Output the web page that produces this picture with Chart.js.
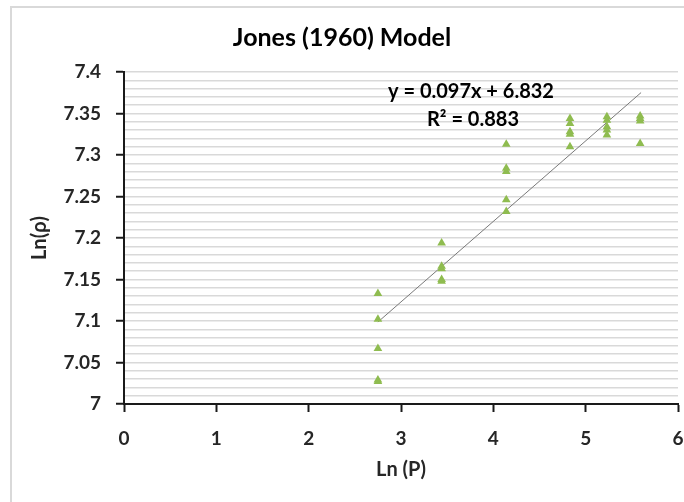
<!DOCTYPE html>
<html>
<head>
<meta charset="utf-8">
<script src="https://cdn.jsdelivr.net/npm/chart.js@4/dist/chart.umd.min.js"></script>
<style>
  html, body { margin: 0; padding: 0; background: #fff; }
  #box { width: 684px; height: 502px; }
</style>
</head>
<body>
<div id="box"><canvas id="jonesChart" width="684" height="502"></canvas></div>
<script>
// Ln(P) and Ln(rho) pairs
const lnP   = [2.75, 2.75, 2.75, 2.75, 2.75,
               3.44, 3.44, 3.44, 3.44, 3.44,
               4.14, 4.14, 4.14, 4.14, 4.14,
               4.83, 4.83, 4.83, 4.83, 4.83,
               5.23, 5.23, 5.23, 5.23, 5.23,
               5.59, 5.59, 5.59, 5.59];
const lnRho = [7.133, 7.102, 7.067, 7.029, 7.027,
               7.194, 7.166, 7.163, 7.150, 7.148,
               7.313, 7.284, 7.280, 7.246, 7.232,
               7.344, 7.338, 7.328, 7.325, 7.310,
               7.346, 7.342, 7.334, 7.330, 7.324,
               7.347, 7.344, 7.341, 7.314];

// linear trendline shown in the chart
const slope = 0.097;
const intercept = 6.832;
const rSquared = 0.883;
const trendX = [2.75, 5.6];

const chartTitle = 'Jones (1960) Model';
const xTitle = 'Ln (P)';
const yTitle = 'Ln(ρ)';

const fontFamily = "Lato, 'Open Sans', sans-serif";

const points = lnP.map((x, i) => ({ x: x, y: lnRho[i] }));
const trendPoints = trendX.map(x => ({ x: x, y: intercept + slope * x }));

function isMajor(v) {
    return Math.round(v * 100) % 5 === 0;
}

// light frame on the left and top, like the Excel chart border
const framePlugin = {
    id: 'frame',
    beforeDraw(chart) {
        const c = chart.ctx;
        c.save();
        c.fillStyle = '#fff';
        c.fillRect(0, 0, chart.width, chart.height);
        c.strokeStyle = '#d9d9d9';
        c.lineWidth = 2;
        c.beginPath();
        c.moveTo(11, chart.height);
        c.lineTo(11, 7);
        c.lineTo(chart.width, 7);
        c.stroke();
        c.restore();
    }
};

// equation + R² label of the trendline
const equationPlugin = {
    id: 'equation',
    afterDatasetsDraw(chart) {
        const c = chart.ctx;
        const a = chart.chartArea;
        c.save();
        c.fillStyle = '#000';
        c.font = 'bold 20px ' + fontFamily;
        c.textAlign = 'center';
        c.textBaseline = 'middle';
        c.fillText('y = ' + slope.toFixed(3) + 'x + ' + intercept.toFixed(3), a.left + 347, a.top + 20);
        c.fillText('R² = ' + rSquared.toFixed(3), a.left + 349, a.top + 48);
        c.restore();
    }
};

const ctx = document.getElementById('jonesChart').getContext('2d');

new Chart(ctx, {
    type: 'scatter',
    data: {
        datasets: [{
            label: 'Ln(ρ)',
            data: points,
            pointStyle: 'triangle',
            pointRadius: 5,
            backgroundColor: '#8fbc50',
            borderColor: '#8fbc50',
            borderWidth: 0
        }, {
            label: 'Linear',
            type: 'line',
            data: trendPoints,
            borderColor: '#7a7a7a',
            borderWidth: 1,
            pointRadius: 0,
            fill: false
        }]
    },
    options: {
        responsive: false,
        animation: false,
        layout: { padding: { left: 6, right: 6, top: 0, bottom: 0 } },
        plugins: {
            legend: { display: false },
            tooltip: { enabled: false },
            title: {
                display: true,
                text: chartTitle,
                color: '#000',
                font: { family: fontFamily, size: 25, weight: 'bold' },
                padding: { top: 23, bottom: 19 }
            }
        },
        scales: {
            x: {
                type: 'linear',
                min: 0,
                max: 6,
                afterFit: s => { s.height = 98; s.paddingLeft = 0; s.paddingRight = 0; },
                border: { color: '#1a1a1a', width: 2 },
                grid: { drawOnChartArea: false, drawTicks: true, tickLength: 8, tickColor: '#1a1a1a', tickWidth: 2 },
                ticks: {
                    stepSize: 1,
                    padding: 15,
                    color: '#262626',
                    font: { family: fontFamily, size: 19, weight: 'bold' }
                },
                title: {
                    display: true,
                    text: xTitle,
                    color: '#262626',
                    font: { family: fontFamily, size: 20, weight: 'bold' },
                    padding: { top: 0, bottom: 20 }
                }
            },
            y: {
                min: 7,
                max: 7.4,
                afterFit: s => { s.width = 118; },
                border: { color: '#1a1a1a', width: 2 },
                grid: {
                    color: '#d9d9d9',
                    lineWidth: 1.5,
                    tickLength: 8,
                    tickWidth: 2,
                    tickColor: c => (c.tick && isMajor(c.tick.value)) ? '#1a1a1a' : 'rgba(0,0,0,0)'
                },
                ticks: {
                    stepSize: 0.01,
                    autoSkip: false,
                    padding: 15,
                    color: '#262626',
                    font: { family: fontFamily, size: 19, weight: 'bold' },
                    callback: v => isMajor(v) ? String(Number(v.toFixed(2))) : ''
                },
                title: {
                    display: true,
                    text: yTitle,
                    color: '#262626',
                    font: { family: fontFamily, size: 20, weight: 'bold' },
                    padding: { top: 22, bottom: 0 }
                }
            }
        }
    },
    plugins: [framePlugin, equationPlugin]
});
</script>
</body>
</html>
